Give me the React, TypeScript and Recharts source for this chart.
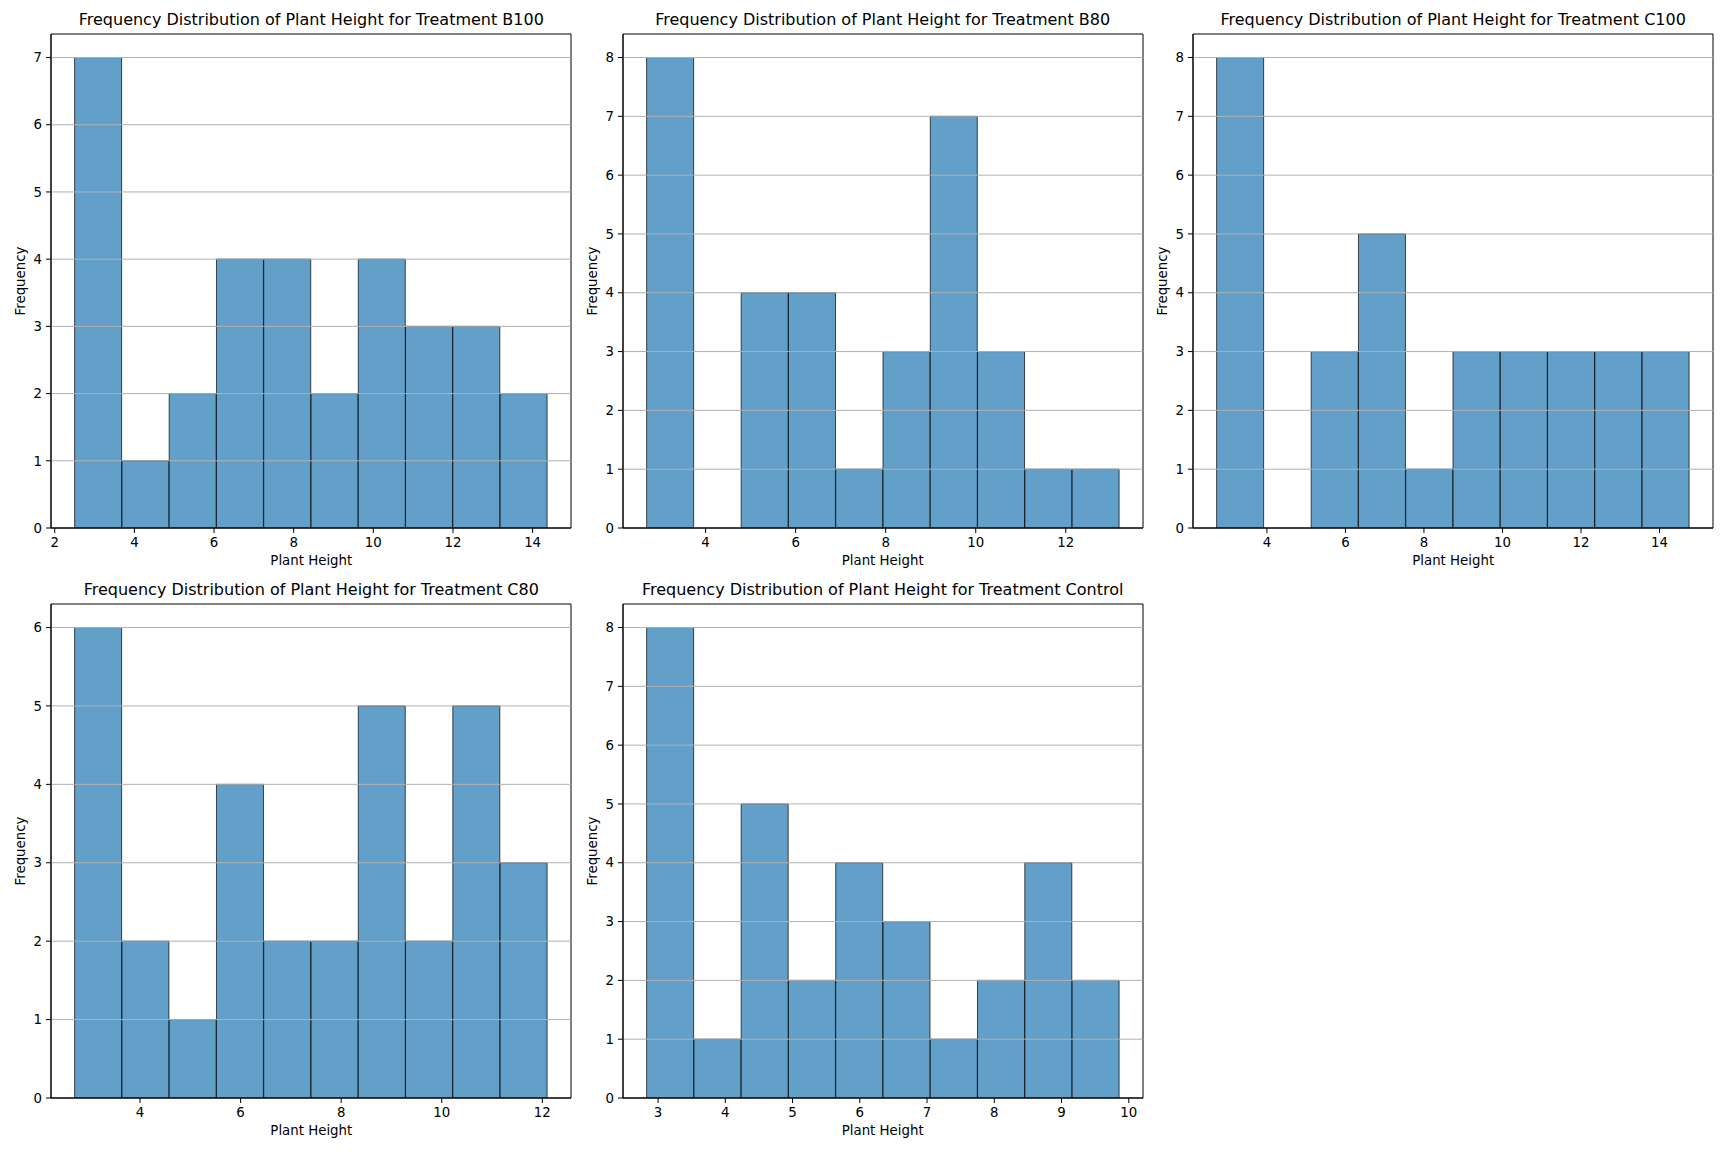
import React from 'react';
import { BarChart, Bar, XAxis, YAxis, ReferenceLine, ReferenceArea } from 'recharts';

// counts per bin (10 equal-width bins each)
const b100Counts = [7, 1, 2, 4, 4, 2, 4, 3, 3, 2];
const b80Counts = [8, 0, 4, 4, 1, 3, 7, 3, 1, 1];
const c100Counts = [8, 0, 3, 5, 1, 3, 3, 3, 3, 3];
const c80Counts = [6, 2, 1, 4, 2, 2, 5, 2, 5, 3];
const controlCounts = [8, 1, 5, 2, 4, 3, 1, 2, 4, 2];

// min / max plant height of each treatment (outer bin edges)
const b100Range = [2.5, 14.37];
const b80Range = [2.69, 13.19];
const c100Range = [2.72, 14.76];
const c80Range = [2.7, 12.1];
const controlRange = [2.83, 9.86];

// x tick labels
const b100Ticks = [2, 4, 6, 8, 10, 12, 14];
const b80Ticks = [4, 6, 8, 10, 12];
const c100Ticks = [4, 6, 8, 10, 12, 14];
const c80Ticks = [4, 6, 8, 10, 12];
const controlTicks = [3, 4, 5, 6, 7, 8, 9, 10];

const panels = [
  { name: 'B100', counts: b100Counts, range: b100Range, ticks: b100Ticks },
  { name: 'B80', counts: b80Counts, range: b80Range, ticks: b80Ticks },
  { name: 'C100', counts: c100Counts, range: c100Range, ticks: c100Ticks },
  { name: 'C80', counts: c80Counts, range: c80Range, ticks: c80Ticks },
  { name: 'Control', counts: controlCounts, range: controlRange, ticks: controlTicks },
];

const FONT = '"DejaVu Sans", sans-serif';
const colLeft = [51.3, 622.7, 1193.2];
const rowTop = [34.3, 603.7];
const PLOT_W = 520;
const PLOT_H = 494;
const Y_AXIS_W = 51;
const TOP = 34;

// build bins like np.histogram(bins=10)
function toBins(counts: number[], range: number[]) {
  const [lo, hi] = range;
  const w = (hi - lo) / counts.length;
  return counts.map((count, i) => ({ center: lo + (i + 0.5) * w, count }));
}

const Histogram = ({ name, counts, range, ticks, left, top }: any) => {
  const data = toBins(counts, range);
  const span = range[1] - range[0];
  const xDomain = [range[0] - span * 0.05, range[1] + span * 0.05];
  const maxCount = Math.max(...counts);
  const yMax = maxCount * 1.05;
  const yTicks = Array.from({ length: maxCount + 1 }, (_, i) => i);
  const width = Y_AXIS_W + PLOT_W + 10;
  const height = 590;
  const tickStyle = { fontSize: 13.33, fill: '#000', fontFamily: FONT };

  return (
    <div style={{ position: 'absolute', left: left - Y_AXIS_W, top: top - TOP, width, height }}>
      <div
        style={{
          position: 'absolute',
          left: Y_AXIS_W,
          width: PLOT_W,
          top: TOP - 14 - 9,
          lineHeight: '18px',
          textAlign: 'center',
          fontSize: 16,
          fontFamily: FONT,
          color: '#000',
          whiteSpace: 'nowrap',
        }}
      >
        {`Frequency Distribution of Plant Height for Treatment ${name}`}
      </div>
      <BarChart
        width={width}
        height={height}
        data={data}
        margin={{ top: TOP, right: 10, left: 0, bottom: height - TOP - PLOT_H - 30 }}
        barCategoryGap={0}
        barGap={0}
      >
        <XAxis
          dataKey="center"
          type="number"
          domain={xDomain}
          allowDataOverflow
          ticks={ticks}
          interval={0}
          height={30}
          tickSize={5}
          tickMargin={5}
          tick={tickStyle}
          axisLine={{ stroke: '#000' }}
          tickLine={{ stroke: '#000' }}
        />
        <YAxis
          type="number"
          domain={[0, yMax]}
          allowDataOverflow
          ticks={yTicks}
          interval={0}
          width={Y_AXIS_W}
          tickSize={5}
          tickMargin={4}
          tick={tickStyle}
          axisLine={{ stroke: '#000' }}
          tickLine={{ stroke: '#000' }}
        />
        <Bar
          dataKey="count"
          fill="#1f77b4"
          fillOpacity={0.7}
          stroke="#000"
          strokeOpacity={0.7}
          strokeWidth={1}
          isAnimationActive={false}
        />
        {/* y grid drawn over the bars, like plt.grid(axis='y') */}
        {yTicks.slice(1).map((v) => (
          <ReferenceLine key={v} y={v} stroke="#b0b0b0" strokeWidth={1} />
        ))}
        <ReferenceArea
          x1={xDomain[0]}
          x2={xDomain[1]}
          y1={0}
          y2={yMax}
          fill="none"
          stroke="#000"
          strokeWidth={1}
        />
      </BarChart>
      <div
        style={{
          position: 'absolute',
          left: Y_AXIS_W,
          width: PLOT_W,
          top: TOP + PLOT_H + 33 - 8,
          lineHeight: '16px',
          textAlign: 'center',
          fontSize: 13.33,
          fontFamily: FONT,
          color: '#000',
        }}
      >
        Plant Height
      </div>
      <div
        style={{
          position: 'absolute',
          left: 21 - 60,
          width: 120,
          top: TOP + PLOT_H / 2 - 8,
          lineHeight: '16px',
          textAlign: 'center',
          fontSize: 13.33,
          fontFamily: FONT,
          color: '#000',
          transform: 'rotate(-90deg)',
        }}
      >
        Frequency
      </div>
    </div>
  );
}

export default function App() {
  return (
    <div style={{ position: 'absolute', left: 0, top: 0, width: 1728, height: 1152, background: '#fff' }}>
      {panels.map((p, i) => (
        <Histogram
          key={p.name}
          {...p}
          left={colLeft[i % 3]}
          top={rowTop[Math.floor(i / 3)]}
        />
      ))}
    </div>
  );
}
